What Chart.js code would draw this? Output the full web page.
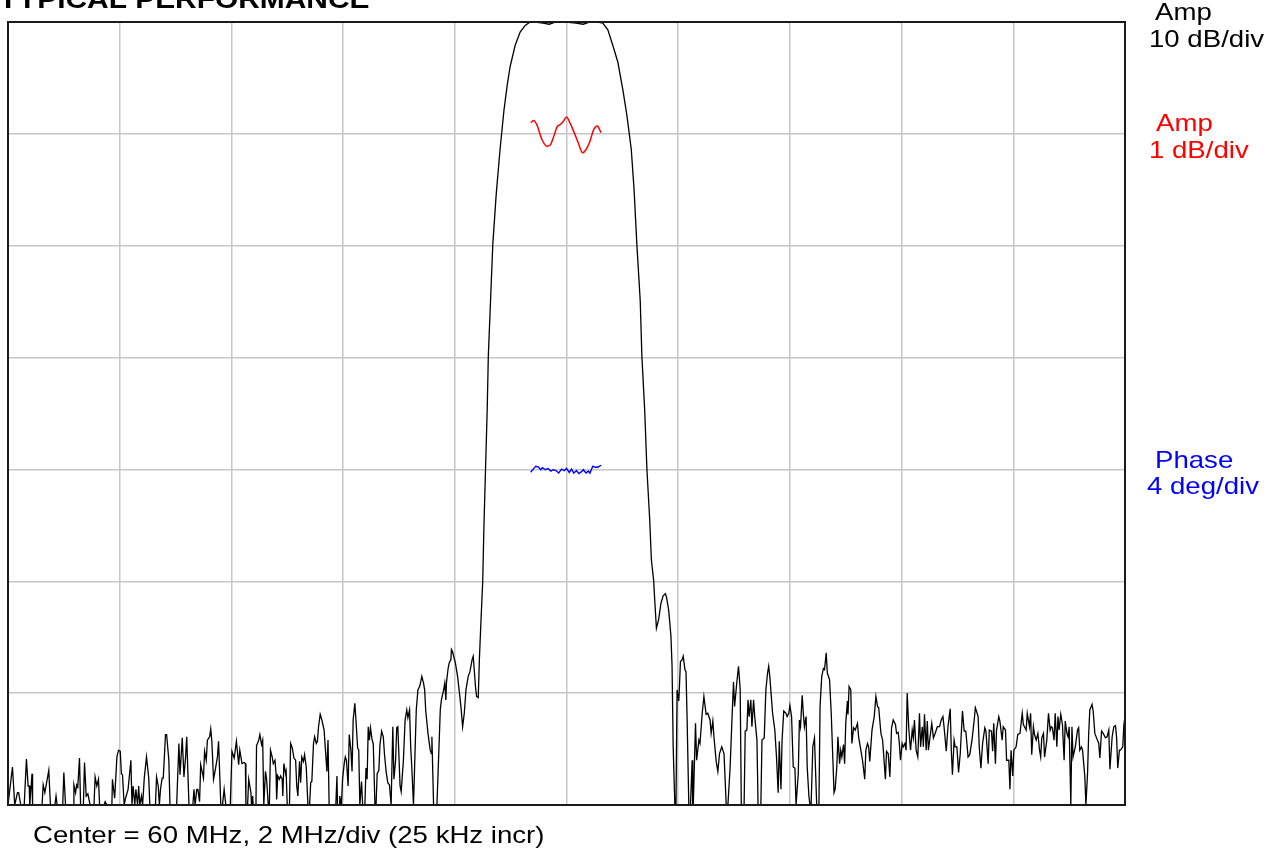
<!DOCTYPE html>
<html>
<head>
<meta charset="utf-8">
<script src="https://cdn.jsdelivr.net/npm/chart.js@4/dist/chart.umd.min.js"></script>
<style>
  html, body { margin: 0; padding: 0; background: #fff; overflow: hidden; }
</style>
</head>
<body>
<canvas id="plot" width="1277" height="851"></canvas>
<script>
// Frequency axis: 50..70 MHz, 2 MHz/div. Amplitude 10 dB/div from 0 to -70 dB.
const xTicks = [50, 52, 54, 56, 58, 60, 62, 64, 66, 68, 70];
const yTicks = [0, -10, -20, -30, -40, -50, -60, -70];

// Amplitude, 10 dB/div (black) - [MHz, dB]
const stopLow = [
  [50.00,-70],[50.08,-66.6],[50.12,-70],[50.17,-68.9],[50.19,-68.9],[50.23,-70],[50.29,-70],[50.33,-65.9],
  [50.36,-68.3],[50.38,-68.3],[50.39,-70],[50.43,-67.2],[50.44,-70],[50.61,-70],[50.63,-68.2],[50.66,-68.9],
  [50.73,-66.9],[50.76,-70],[50.84,-70],[50.86,-69.2],[50.88,-70],[50.98,-70],[51.00,-67.1],[51.03,-70],
  [51.17,-70],[51.18,-68.2],[51.21,-68.9],[51.23,-68.2],[51.25,-68.4],[51.28,-65.8],[51.30,-70],[51.35,-70],
  [51.37,-66.2],[51.40,-69.2],[51.43,-69.0],[51.47,-70],[51.54,-70],[51.56,-67.5],[51.59,-68.3],[51.62,-67.7],
  [51.64,-70],[51.72,-70],[51.74,-69.7],[51.77,-70],[51.86,-70],[51.87,-67.7],[51.91,-69.4],[51.95,-65.7],
  [51.98,-65.1],[52.01,-65.2],[52.03,-67.2],[52.05,-67.3],[52.08,-70],[52.10,-69.5],[52.15,-68.6],[52.20,-66.0],
  [52.22,-70],[52.24,-68.3],[52.27,-70],[52.29,-68.6],[52.32,-70],[52.34,-68.3],[52.36,-70],[52.39,-69.2],
  [52.41,-70],[52.44,-67.6],[52.48,-65.7],[52.52,-67.6],[52.54,-70],[52.64,-70],[52.66,-67.5],[52.69,-68.3],
  [52.71,-70],[52.73,-68.6],[52.76,-67.6],[52.78,-67.6],[52.82,-63.7],[52.84,-63.7],[52.88,-66.0],[52.90,-70],
  [53.02,-70],[53.06,-64.5],[53.08,-67.3],[53.12,-64.0],[53.15,-67.5],[53.18,-65.7],[53.20,-63.9],[53.24,-70],
  [53.31,-70],[53.33,-68.6],[53.35,-70],[53.38,-68.6],[53.40,-68.6],[53.43,-69.7],[53.45,-66.4],[53.50,-67.6],
  [53.52,-65.2],[53.55,-66.0],[53.57,-64.2],[53.61,-63.9],[53.63,-63.2],[53.65,-64.3],[53.68,-67.7],[53.71,-66.9],
  [53.75,-65.7],[53.77,-64.3],[53.81,-70],[53.84,-70],[53.87,-68.6],[53.90,-70],[53.98,-70],[54.01,-65.2],
  [54.05,-65.8],[54.09,-64.3],[54.13,-66.4],[54.15,-65.1],[54.19,-66.3],[54.23,-66.2],[54.25,-66.3],[54.26,-70],
  [54.29,-70],[54.31,-67.7],[54.35,-68.9],[54.36,-70],[54.38,-69.2],[54.39,-70],[54.44,-70],[54.45,-64.7],
  [54.49,-64.2],[54.51,-63.7],[54.54,-64.6],[54.56,-64.2],[54.58,-70],[54.61,-67.0],[54.63,-67.7],[54.66,-70],
  [54.68,-70],[54.70,-65.1],[54.73,-65.7],[54.75,-66.3],[54.78,-66.0],[54.80,-67.2],[54.81,-69.5],[54.83,-67.4],
  [54.86,-67.7],[54.88,-67.4],[54.91,-67.7],[54.92,-69.2],[54.94,-66.3],[54.97,-67.2],[54.98,-67.0],[55.00,-70],
  [55.04,-70],[55.06,-64.5],[55.09,-64.9],[55.12,-65.8],[55.15,-66.0],[55.17,-68.3],[55.19,-69.2],[55.22,-66.1],
  [55.24,-68.0],[55.26,-65.7],[55.29,-66.1],[55.31,-65.5],[55.34,-66.6],[55.37,-70],[55.40,-70],[55.42,-68.0],
  [55.44,-67.9],[55.47,-64.5],[55.49,-63.9],[55.52,-64.5],[55.54,-64.3],[55.56,-63.0],[55.59,-61.9],[55.62,-62.4],
  [55.66,-63.3],[55.68,-64.8],[55.71,-67.0],[55.73,-64.2],[55.75,-70],[55.87,-70],[55.89,-67.4],[55.90,-70],
  [55.93,-70],[55.94,-69.2],[55.97,-70],[55.99,-67.7],[56.02,-66.3],[56.04,-65.7],[56.06,-66.0],[56.09,-68.3],
  [56.11,-63.7],[56.14,-65.1],[56.16,-67.0],[56.18,-62.4],[56.21,-60.9],[56.23,-62.4],[56.26,-64.9],[56.28,-65.1],
  [56.30,-70],[56.33,-67.9],[56.35,-70],[56.39,-70],[56.41,-66.7],[56.43,-67.7],[56.45,-63.0],[56.47,-64.2],
  [56.49,-63.1],[56.52,-64.2],[56.54,-64.5],[56.57,-70],[56.59,-70],[56.61,-67.2],[56.64,-66.9],[56.66,-64.6],
  [56.69,-63.4],[56.72,-63.9],[56.74,-65.4],[56.77,-67.0],[56.80,-68.0],[56.83,-68.2],[56.86,-70],[56.89,-63.0],
  [56.91,-67.7],[56.94,-66.0],[56.96,-63.1],[56.98,-63.0],[57.02,-68.3],[57.04,-68.8],[57.08,-66.0],[57.11,-62.4],
  [57.14,-61.5],[57.16,-62.2],[57.19,-61.5],[57.21,-64.8],[57.23,-66.6],[57.26,-70],[57.28,-66.7],[57.31,-61.5],
  [57.34,-59.7],[57.37,-59.4],[57.39,-59.0],[57.41,-58.5],[57.44,-59.1],[57.46,-59.7],[57.48,-61.6],[57.52,-63.6],
  [57.56,-65.1],[57.58,-65.4],[57.59,-63.9],[57.62,-70],[57.68,-70],[57.70,-67.2],[57.74,-61.5],[57.76,-60.6],
  [57.80,-59.7],[57.82,-59.1],[57.84,-60.6],[57.85,-59.1],[57.88,-57.8],[57.90,-57.3],[57.93,-57.0],[57.94,-56.1],
  [57.96,-56.3],[57.97,-56.5],[58.01,-57.3],[58.05,-58.5],[58.07,-59.4],[58.11,-61.2],[58.14,-63.0],[58.17,-61.8],
  [58.20,-59.7],[58.24,-58.5],[58.27,-58.1],[58.31,-57.0],[58.33,-56.7],[58.37,-59.4],[58.39,-60.3],[58.42,-60.4]
];

const passband = [
  [58.44,-57.0],[58.47,-53.4],[58.50,-50.0],[58.52,-45.4],[58.55,-40.0],[58.58,-34.7],[58.60,-29.9],[58.64,-24.9],
  [58.68,-19.9],[58.74,-15.5],[58.81,-11.4],[58.88,-7.9],[58.94,-5.6],[58.99,-4.0],[59.08,-2.1],[59.17,-0.9],
  [59.26,-0.3],[59.35,0],[59.44,0],[59.58,-0.1],[59.69,-0.2],[59.81,0],[59.99,0],[60.17,-0.1],[60.30,-0.2],
  [60.42,0],[60.56,0],[60.65,-0.1],[60.74,-0.7],[60.83,-2.1],[60.92,-3.6],[61.01,-6.1],[61.08,-8.3],
  [61.16,-11.4],[61.21,-15.0],[61.26,-19.9],[61.32,-24.9],[61.35,-29.9],[61.40,-34.7],[61.44,-40.0],[61.49,-44.5],
  [61.52,-48.1],[61.56,-49.9],[61.58,-51.7],[61.61,-54.2],[61.65,-53.4],[61.69,-52.0],[61.73,-51.3],[61.77,-51.1],
  [61.79,-51.4],[61.83,-52.6],[61.87,-54.9],[61.89,-57.6],[61.91,-64.8],[61.94,-70]
];

const stopHigh = [
  [61.96,-70],[61.98,-59.7],[62.01,-60.7],[62.02,-59.7],[62.04,-57.2],[62.07,-57.0],[62.09,-56.7],[62.12,-57.9],
  [62.14,-58.1],[62.16,-62.4],[62.19,-70],[62.22,-70],[62.25,-66.0],[62.26,-70],[62.27,-70],[62.31,-62.7],
  [62.33,-66.0],[62.37,-64.2],[62.39,-64.5],[62.43,-61.8],[62.46,-60.3],[62.50,-61.9],[62.53,-61.8],[62.57,-62.4],
  [62.59,-63.6],[62.62,-62.5],[62.64,-63.9],[62.68,-66.1],[62.71,-67.0],[62.74,-65.4],[62.78,-64.8],[62.82,-65.4],
  [62.86,-70],[62.89,-70],[62.93,-66.6],[62.96,-62.7],[62.99,-59.0],[63.01,-61.2],[63.05,-59.0],[63.08,-57.6],
  [63.11,-59.7],[63.13,-70],[63.18,-70],[63.20,-63.4],[63.23,-63.3],[63.25,-60.6],[63.27,-62.1],[63.30,-60.6],
  [63.32,-63.0],[63.35,-60.6],[63.37,-62.1],[63.41,-64.2],[63.43,-70],[63.48,-70],[63.50,-64.2],[63.54,-64.0],
  [63.57,-59.7],[63.60,-58.2],[63.62,-57.6],[63.64,-58.5],[63.69,-61.8],[63.73,-63.3],[63.76,-65.7],[63.79,-68.9],
  [63.81,-64.3],[63.84,-68.6],[63.86,-64.2],[63.89,-61.6],[63.93,-61.8],[63.95,-62.1],[63.98,-61.8],[64.00,-61.1],
  [64.03,-62.1],[64.06,-66.6],[64.09,-66.7],[64.11,-70],[64.15,-67.2],[64.17,-62.4],[64.19,-63.0],[64.22,-60.2],
  [64.24,-61.8],[64.26,-63.0],[64.29,-62.1],[64.31,-66.6],[64.34,-69.2],[64.36,-70],[64.38,-70],[64.41,-64.8],
  [64.44,-64.0],[64.48,-70],[64.52,-70],[64.54,-61.2],[64.57,-58.5],[64.60,-57.8],[64.62,-57.9],[64.65,-56.4],
  [64.67,-58.2],[64.71,-58.8],[64.74,-61.8],[64.77,-66.0],[64.79,-68.9],[64.81,-68.6],[64.84,-66.6],[64.86,-63.9],
  [64.89,-66.3],[64.91,-65.1],[64.93,-65.7],[64.96,-64.6],[64.98,-66.3],[65.00,-62.7],[65.03,-60.7],[65.04,-61.9],
  [65.06,-59.4],[65.09,-59.7],[65.11,-64.5],[65.14,-63.1],[65.17,-63.3],[65.21,-62.7],[65.23,-63.9],[65.27,-65.1],
  [65.30,-66.0],[65.34,-67.7],[65.36,-65.1],[65.39,-64.5],[65.41,-64.8],[65.43,-66.1],[65.47,-63.3],[65.51,-62.1],
  [65.54,-60.3],[65.57,-61.2],[65.59,-61.3],[65.63,-63.6],[65.66,-64.2],[65.71,-67.7],[65.73,-65.2],[65.76,-65.4],
  [65.79,-67.5],[65.82,-63.1],[65.85,-62.4],[65.89,-62.8],[65.91,-63.6],[65.94,-63.5],[65.96,-64.5],[65.98,-66.0],
  [66.01,-64.5],[66.03,-64.8],[66.06,-64.5],[66.08,-65.1],[66.10,-60.0],[66.13,-63.3],[66.16,-65.1],[66.19,-63.3],
  [66.21,-64.0],[66.23,-62.4],[66.26,-65.1],[66.29,-65.7],[66.32,-61.8],[66.34,-64.8],[66.37,-63.0],[66.39,-64.8],
  [66.41,-61.9],[66.44,-65.1],[66.46,-62.5],[66.48,-65.1],[66.51,-63.9],[66.54,-62.7],[66.57,-64.0],[66.60,-63.6],
  [66.64,-63.0],[66.68,-63.0],[66.71,-62.4],[66.74,-62.1],[66.76,-63.0],[66.80,-65.2],[66.83,-63.0],[66.87,-61.4],
  [66.89,-65.1],[66.91,-67.3],[66.94,-64.2],[66.96,-64.8],[66.99,-64.8],[67.02,-67.1],[67.05,-65.4],[67.09,-61.6],
  [67.12,-63.4],[67.15,-63.4],[67.19,-65.7],[67.22,-65.5],[67.26,-64.2],[67.30,-62.4],[67.32,-61.3],[67.34,-61.6],
  [67.37,-62.1],[67.39,-64.8],[67.42,-66.7],[67.45,-64.5],[67.49,-63.1],[67.51,-63.4],[67.55,-66.3],[67.57,-63.3],
  [67.61,-63.4],[67.63,-65.2],[67.65,-62.7],[67.68,-66.3],[67.70,-63.3],[67.74,-62.1],[67.76,-62.5],[67.80,-64.2],
  [67.82,-63.0],[67.86,-63.3],[67.88,-66.0],[67.92,-66.0],[67.94,-68.6],[67.96,-65.1],[67.99,-67.4],[68.01,-65.1],
  [68.05,-64.8],[68.08,-63.7],[68.12,-63.6],[68.16,-61.8],[68.18,-62.8],[68.20,-63.0],[68.23,-63.3],[68.25,-61.8],
  [68.29,-63.0],[68.31,-61.8],[68.33,-65.5],[68.36,-63.0],[68.38,-63.7],[68.41,-64.2],[68.44,-63.6],[68.47,-65.1],
  [68.49,-65.7],[68.51,-64.0],[68.54,-63.6],[68.56,-65.7],[68.60,-64.2],[68.63,-61.8],[68.66,-63.3],[68.68,-63.0],
  [68.70,-63.1],[68.73,-64.2],[68.75,-61.8],[68.78,-64.8],[68.80,-62.1],[68.82,-63.3],[68.85,-61.9],[68.88,-62.8],
  [68.91,-66.0],[68.93,-62.5],[68.96,-63.6],[68.98,-63.9],[69.00,-63.0],[69.03,-70],[69.05,-63.0],[69.07,-65.7],
  [69.11,-64.8],[69.15,-63.3],[69.17,-63.1],[69.19,-65.1],[69.22,-64.8],[69.24,-65.1],[69.28,-67.4],[69.30,-70],
  [69.33,-67.1],[69.35,-63.6],[69.37,-61.5],[69.41,-61.0],[69.43,-61.6],[69.46,-63.6],[69.49,-64.0],[69.53,-64.5],
  [69.55,-65.8],[69.58,-63.4],[69.61,-63.6],[69.65,-64.0],[69.68,-63.9],[69.71,-63.3],[69.73,-66.8],[69.77,-63.9],
  [69.80,-63.0],[69.83,-62.9],[69.85,-64.0],[69.87,-66.7],[69.90,-65.1],[69.92,-65.1],[69.96,-64.8],[69.98,-62.8],
  [70.00,-62.1]
];

// Passband amplitude ripple, 1 dB/div (red) - [MHz, dB]
const rippleTrace = [
  [59.36,0.10],[59.41,0.12],[59.47,0.08],[59.56,-0.05],[59.65,-0.11],[59.71,-0.10],[59.76,-0.04],
  [59.84,0.07],[59.88,0.08],[59.94,0.11],[60.00,0.15],[60.06,0.10],[60.13,0.02],[60.21,-0.08],
  [60.29,-0.17],[60.35,-0.14],[60.41,-0.08],[60.49,0.04],[60.55,0.07],[60.62,0.01]
];

// Passband phase deviation, 4 deg/div (blue) - [MHz, deg]
const phaseTrace = [
  [59.36,-0.10],[59.41,0.03],[59.45,0.11],[59.50,0.08],[59.54,-0.01],[59.57,0.06],[59.62,-0.01],[59.67,0.03],
  [59.72,-0.06],[59.76,-0.01],[59.81,-0.04],[59.86,-0.13],[59.91,0.01],[59.96,-0.04],[60.00,0.04],[60.05,-0.11],
  [60.09,0.01],[60.13,-0.13],[60.18,-0.04],[60.22,-0.15],[60.27,-0.08],[60.30,-0.01],[60.35,-0.13],[60.39,-0.06],
  [60.42,-0.13],[60.47,0.11],[60.52,0.08],[60.56,0.08],[60.62,0.15]
];

const toXY = arr => arr.map(p => ({ x: p[0], y: p[1] }));
const ampTrace = stopLow.concat(passband, stopHigh);

const fontFace = '"Liberation Sans", Arial, sans-serif';

function stretchText(ctx, txt, x, y, font, color) {
  ctx.save();
  ctx.font = font;
  ctx.fillStyle = color;
  ctx.textBaseline = 'alphabetic';
  ctx.textAlign = 'left';
  ctx.translate(x, y);
  ctx.scale(1.15, 1);
  ctx.fillText(txt, 0, 0);
  ctx.restore();
}

const framePlugin = {
  id: 'frame',
  afterDraw(chart) {
    const { ctx, chartArea: a } = chart;
    ctx.save();
    ctx.strokeStyle = '#1a1a1a';
    ctx.lineWidth = 2;
    ctx.strokeRect(a.left, a.top, a.right - a.left, a.bottom - a.top);
    ctx.restore();

    const f = '24px ' + fontFace;
    stretchText(ctx, 'TYPICAL PERFORMANCE', -1, 7.5, 'bold 26px ' + fontFace, '#000');
    stretchText(ctx, 'Amp', 1155, 20, f, '#000');
    stretchText(ctx, '10 dB/div', 1149, 47, f, '#000');
    stretchText(ctx, 'Amp', 1156, 131, f, '#ff0000');
    stretchText(ctx, '1 dB/div', 1149, 158, f, '#ff0000');
    stretchText(ctx, 'Phase', 1155, 468, f, '#0000ff');
    stretchText(ctx, '4 deg/div', 1147, 494, f, '#0000ff');
    stretchText(ctx, 'Center = 60 MHz, 2 MHz/div (25 kHz incr)', 33, 843, f, '#000');
  }
};

const gridOpts = { color: '#c6c6c6', lineWidth: 1.5, drawTicks: false };

new Chart(document.getElementById('plot').getContext('2d'), {
  type: 'line',
  data: {
    datasets: [
      { data: toXY(ampTrace), borderColor: '#000', borderWidth: 1.3, yAxisID: 'y' },
      { data: toXY(rippleTrace), borderColor: '#ff0000', borderWidth: 1.5, yAxisID: 'yr', cubicInterpolationMode: 'monotone' },
      { data: toXY(phaseTrace), borderColor: '#0000ff', borderWidth: 1.4, yAxisID: 'yp' }
    ]
  },
  options: {
    responsive: false,
    animation: false,
    layout: { padding: { left: 8, top: 22, right: 152, bottom: 46 } },
    elements: { point: { radius: 0 }, line: { tension: 0, fill: false } },
    plugins: { legend: { display: false }, tooltip: { enabled: false }, title: { display: false } },
    scales: {
      x: {
        type: 'linear', min: xTicks[0], max: xTicks[xTicks.length - 1],
        afterBuildTicks: s => { s.ticks = xTicks.map(v => ({ value: v })); },
        ticks: { display: false }, grid: gridOpts, border: { display: false }
      },
      y: {
        type: 'linear', min: yTicks[yTicks.length - 1], max: yTicks[0],
        afterBuildTicks: s => { s.ticks = yTicks.map(v => ({ value: v })); },
        ticks: { display: false }, grid: gridOpts, border: { display: false }
      },
      yr: { type: 'linear', min: -6, max: 1, display: false },
      yp: { type: 'linear', min: -12, max: 16, display: false }
    }
  },
  plugins: [framePlugin]
});
</script>
</body>
</html>
